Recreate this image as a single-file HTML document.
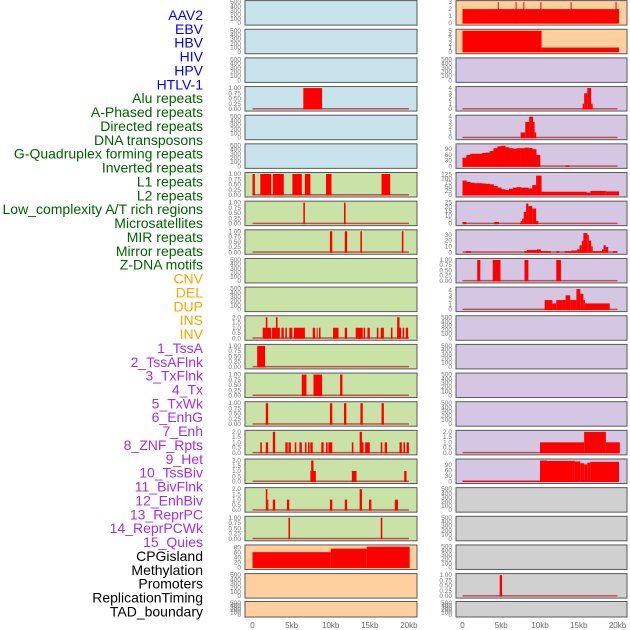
<!DOCTYPE html>
<html><head><meta charset="utf-8"><style>
html,body{margin:0;padding:0;background:#fff;}
svg{display:block;font-family:"Liberation Sans",sans-serif;}
</style></head><body>
<svg id="chart" width="630" height="630" viewBox="0 0 630 630" xmlns="http://www.w3.org/2000/svg"></svg>
<script>
const labels = ["AAV2","EBV","HBV","HIV","HPV","HTLV-1","Alu repeats","A-Phased repeats","Directed repeats","DNA transposons","G-Quadruplex forming repeats","Inverted repeats","L1 repeats","L2 repeats","Low_complexity A/T rich regions","Microsatellites","MIR repeats","Mirror repeats","Z-DNA motifs","CNV","DEL","DUP","INS","INV","1_TssA","2_TssAFlnk","3_TxFlnk","4_Tx","5_TxWk","6_EnhG","7_Enh","8_ZNF_Rpts","9_Het","10_TssBiv","11_BivFlnk","12_EnhBiv","13_ReprPC","14_ReprPCWk","15_Quies","CPGisland","Methylation","Promoters","ReplicationTiming","TAD_boundary"];
const groups = ["virus","virus","virus","virus","virus","virus","repeat","repeat","repeat","repeat","repeat","repeat","repeat","repeat","repeat","repeat","repeat","repeat","repeat","sv","sv","sv","sv","sv","hmm","hmm","hmm","hmm","hmm","hmm","hmm","hmm","hmm","hmm","hmm","hmm","hmm","hmm","hmm","other","other","other","other","other"];
const groupText = {virus:"#0000ff",repeat:"#006400",sv:"#ffa500",hmm:"#a030f0",other:"#000000"};
const groupBg = {virus:"#c8e3eb",repeat:"#c9e2a5",sv:"#ffd09e",hmm:"#d5c6e3",other:"#d0d0d0"};

const T500=[0,100,200,300,400,500], TB=[0,0.25,0.5,0.75,1], T2=[0,0.5,1,1.5,2], T4=[0,1,2,3,4];
const yMax = [500,500,500,1,500,500, 1,1,1,500,500,2,1,1,1,2,2,2,1, 85,500,500, 3,5,500,4,4,110,128,25,36,1,4.4,500,500,500,500,2,115, 500,500,500,1,500];
const yTicks = [T500,T500,T500,TB,T500,T500, TB,TB,TB,T500,T500,T2,TB,TB,TB,T2,T2,T2,TB, [0,20,40,60,80],T500,T500, [0,1,2,3],[0,1,2,3,4,5],T500,T4,T4,[0,30,60,90],[0,25,50,75,100,125],[0,5,10,15,20,25],[0,10,20,30],TB,T4,T500,T500,T500,T500,T2,[0,30,60,90], T500,T500,T500,TB,T500];

// profile data (0.5kb bins from 0kb)
const txValues = [45,60,66,66,66,70,72,80,95,105,108,100,95,92,95,95,98,96,90,60];
const txWkValues = [88,80,75,72,72,70,68,65,55,45,35,30,38,45,48,45,45,40,60,118];
const binStep = 0.5;

// segments: [startKb, endKb, value]
const segs = [
 [],[],[],[[6.5,8.9,1]],[],[],
 [[0,0.3,1],[1.0,2.4,1],[2.6,4.0,1],[5.1,6.3,1],[6.7,7.4,1],[9.4,10.1,1],[16.5,17.6,1]],
 [[6.5,6.7,1],[11.7,11.9,1]],
 [[9.9,10.2,1],[11.8,12.1,1],[13.8,14.0,1],[19.1,19.3,1]],
 [],[],
 [[1.3,2.4,1],[1.7,1.9,2],[2.5,3.5,1],[3.0,3.2,2],[3.7,4.0,1],[4.2,4.4,1],[4.7,5.1,1],[5.3,6.7,1],[7.7,8.0,1],[8.2,8.3,1],[8.5,8.7,1],[10.3,11.0,1],[11.8,12.1,1],[13.2,14.1,1],[14.2,14.4,1],[14.7,15.0,1],[15.9,16.1,1],[16.4,16.8,1],[17.7,17.9,1],[18.5,19.0,1],[18.5,18.8,2],[19.2,19.4,1],[19.6,19.9,1]],
 [[0.6,1.6,1]],
 [[6.3,6.9,1],[7.8,8.9,1],[11.2,11.5,1]],
 [[1.7,2.0,1],[9.9,10.2,1],[11.7,12.0,1],[13.8,14.1,1],[16.5,16.8,1]],
 [[1.0,1.2,1],[1.7,2.0,1],[2.6,2.9,2],[4.2,4.5,1],[4.6,4.9,1],[5.4,5.6,1],[6.0,6.3,1],[6.7,6.9,1],[7.1,7.3,1],[7.4,7.7,1],[8.8,9.1,1],[9.4,9.6,1],[9.7,10.2,1],[12.7,12.9,1],[13.7,14.0,2],[14.0,14.2,1],[14.4,15.0,1],[16.4,16.6,1],[16.9,17.2,1],[18.8,19.1,1],[19.3,19.5,1],[19.7,20.0,1]],
 [[7.4,8.1,1],[7.5,7.8,2],[12.7,13.3,1],[19.4,19.7,1]],
 [[1.7,1.9,2],[1.9,2.0,1],[2.6,2.9,1],[4.4,4.7,1],[9.9,10.2,1],[11.8,12.1,1],[13.7,14.0,2],[14.9,15.2,1],[18.2,18.6,1]],
 [[4.6,4.8,1],[16.4,16.6,1]],
 [[0,10,62],[10,14.6,76],[14.6,20.1,84]],
 [],[],
 [[0,20.2,2],[4.55,4.65,3],[6.85,6.95,3],[7.85,7.95,3],[10.05,10.15,3],[13.95,14.05,3],[19.75,19.85,3]],
 [[0,10.2,5],[10.2,20.2,1]],
 [],
 [[15.5,15.7,1],[15.7,16.1,3],[16.1,16.6,4],[16.6,16.8,1]],
 [[7.5,8.1,1],[8.1,8.6,3],[8.6,9.1,4],[9.1,9.3,3],[9.3,9.5,1]],
 [[13.3,13.8,5]],
 [[10,10.2,118],[10.2,16,20],[16,16.5,15],[16.5,18.5,25],[18.5,20.2,22]],
 [[0,0.5,2],[4.1,4.7,2],[7.4,7.5,1],[7.5,7.7,3],[7.7,7.9,6],[7.9,8.2,14],[8.2,8.5,24],[8.5,9.0,21],[9.0,9.5,18],[9.5,9.8,3]],
 [[0.4,1.1,2],[8.0,8.3,2],[8.3,9.6,4],[9.6,10.1,5],[10.1,11.4,2],[12.1,12.5,2],[13.2,14.0,2],[14.0,14.8,3],[14.8,15.1,5],[15.1,15.4,12],[15.4,15.6,20],[15.6,16.1,33],[16.1,16.3,30],[16.3,16.6,20],[16.6,16.8,10],[16.8,18.0,2],[18.0,18.2,5],[18.2,18.5,12],[18.5,18.8,9],[19.4,20.0,2]],
 [[1.9,2.3,1],[3.9,4.9,1],[8.0,8.5,1],[12.1,12.7,1]],
 [[10.6,11.6,2],[11.6,12.1,1.3],[12.1,13.3,2],[13.3,13.9,3],[13.9,14.7,2],[14.7,15.2,4.3],[15.2,15.6,3.3],[15.6,15.8,2],[15.8,19.0,1.3]],
 [],[],[],[],
 [[10.0,15.7,1],[15.7,18.5,2],[18.5,20.3,1]],
 [[0,10,4],[10,10.9,115],[10.9,14.5,113],[14.5,15.2,110],[15.2,15.7,100],[15.7,16.1,94],[16.1,16.5,103],[16.5,20.2,108]],
 [],[],[],
 [[4.8,5.1,1]],
 []
];
const profileIndex = {27: txValues, 28: txWkValues};
const xTickKb = [0,5,10,15,20];
const xTickLabels = ["0","5kb","10kb","15kb","20kb"];

const svg = document.getElementById('chart');
const NS = "http://www.w3.org/2000/svg";
function mk(tag, attrs){ const e=document.createElementNS(NS,tag); for(const k in attrs) e.setAttribute(k,attrs[k]); svg.appendChild(e); return e; }

const colLeft = [245, 456], colRight = [417, 627];
const kb0 = [252.5, 462.5], kbScale = [7.82, 7.75];
function xScale(col, kb){ return kb0[col] + kb*kbScale[col]; }
function rowTop(r){ return r < 21 ? 0.6 + 28.65*r : 601.5; }
function rowH(r){ return r < 21 ? 24.5 : 15.5; }

// labels
labels.forEach((t,i)=>{
  const el = mk('text',{x:203,y:20+13.87*i,'text-anchor':'end','font-size':'14',fill:groupText[groups[i]]});
  el.textContent = t;
  
  
});

function fmt(v, ticks){
  const m = Math.max(...ticks);
  if (m === 1) return v.toFixed(2);
  if (m === 2) return v.toFixed(1);
  return String(v);
}

for (let i=0;i<44;i++){
  const col = i<22?0:1, r = i%22;
  const top = rowTop(r), h = rowH(r);
  const x1 = colLeft[col], x2 = colRight[col];
  const bg = mk('rect',{x:x1,y:top,width:x2-x1,height:h,fill:groupBg[groups[i]],stroke:'#5a5a5a','stroke-width':1});
  
  
  const yb = top + h - 2, yt = top + 1.5;
  const ys = v => yb - (v / yMax[i]) * (yb - yt);
  // ticks
  yTicks[i].forEach(v=>{
    const tl = mk('text',{x:x1-4,y:ys(v)+2,'text-anchor':'end','font-size':'6.5',fill:'#777'});
    tl.textContent = fmt(v, yTicks[i]);
    
    
  });
  const hasData = segs[i].length>0 || profileIndex[i];
  if (hasData){
    const bl = mk('rect',{x:xScale(col,0),y:yb-1,width:xScale(col,20)-xScale(col,0),height:1.5,fill:'#c05050'});
    
    
  }
  const prof = profileIndex[i];
  if (prof){
    prof.forEach((v,k)=>{
      const a = xScale(col,k*binStep), b = xScale(col,(k+1)*binStep);
      const rr = mk('rect',{x:a,y:ys(v),width:b-a+0.3,height:yb-ys(v)+0.5,fill:'#ff0000'});
      
      
    });
  }
  segs[i].forEach(s=>{
    const a = xScale(col,s[0]), b = xScale(col,s[1]);
    const rr = mk('rect',{x:a,y:ys(s[2]),width:Math.max(b-a,1),height:yb-ys(s[2])+0.5,fill:'#ff0000'});
    
    
  });
}

// x axis labels
[0,1].forEach(col=>{
  xTickKb.forEach((kb,j)=>{
    const t = mk('text',{x:xScale(col,kb),y:628,'text-anchor':'middle','font-size':'8',fill:'#666'});
    t.textContent = xTickLabels[j];
    
    
  });
});
</script>
</body></html>
